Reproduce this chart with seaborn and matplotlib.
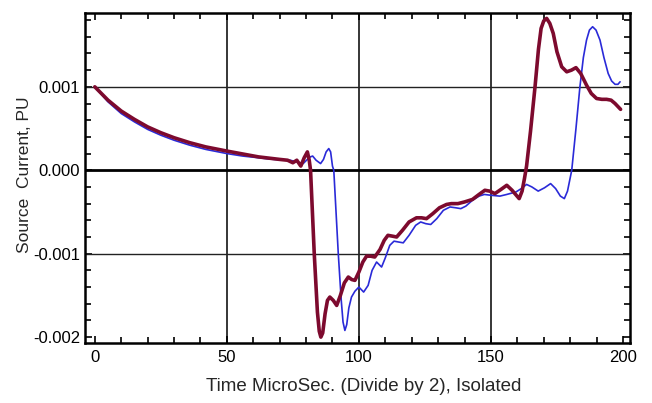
import numpy as np
import pandas as pd
import seaborn as sns
import matplotlib.pyplot as plt
from matplotlib.ticker import MultipleLocator, FormatStrFormatter

# values; current in units of 1e-3 PU
red_t = [0, 5, 10, 15, 20, 25, 30, 36, 42, 50, 56, 62, 66, 70, 73, 75, 76.5, 78, 79.3, 80.5,
         81.2, 81.7, 83.1, 84.3, 85.0, 85.6, 86.3, 87.2, 88.1, 89, 90.3, 91.6, 93, 94.5, 96,
         97.3, 98.5, 100, 101.5, 102.9, 104.5, 106, 108, 109.6, 111, 112.7, 114.3, 116.5, 119,
         121.8, 123.7, 125.6, 128, 130.5, 133.2, 135, 137.5, 140, 143, 145.5, 147.7, 149.5,
         151.5, 153.8, 156, 158, 160.7, 161.8, 162.7, 163.5, 165, 166.7, 168, 169, 170, 171.1,
         172.3, 173.6, 175, 176.8, 178.7, 180.5, 182.2, 184, 186.2, 188, 190, 192, 193.8,
         195.5, 197, 199.1]
red_i = [1.00, 0.84, 0.71, 0.61, 0.52, 0.45, 0.39, 0.33, 0.28, 0.23, 0.195, 0.16, 0.145, 0.13,
         0.12, 0.09, 0.12, 0.05, 0.15, 0.22, 0.12, 0.0, -1.0, -1.7, -1.93, -2.0, -1.95, -1.72,
         -1.56, -1.52, -1.56, -1.62, -1.5, -1.35, -1.28, -1.31, -1.32, -1.22, -1.10, -1.03,
         -1.03, -1.04, -0.95, -0.84, -0.78, -0.79, -0.80, -0.72, -0.62, -0.57, -0.57, -0.58,
         -0.52, -0.45, -0.41, -0.40, -0.40, -0.38, -0.35, -0.29, -0.24, -0.25, -0.28, -0.23,
         -0.18, -0.24, -0.34, -0.25, -0.10, 0.05, 0.47, 1.0, 1.45, 1.70, 1.79, 1.82, 1.76,
         1.64, 1.42, 1.24, 1.18, 1.20, 1.23, 1.16, 1.02, 0.92, 0.86, 0.85, 0.85, 0.84, 0.80,
         0.73]

blue_t = [0, 5, 10, 15, 20, 25, 30, 36, 42, 50, 56, 62, 66, 70, 74, 76.5, 78.9, 80.5, 81.6,
          82.5, 83.8, 85.5, 86.6, 87.6, 88.6, 89.3, 90, 90.5, 92.2, 93.3, 94.0, 94.7, 95.4,
          96.2, 97.2, 98.5, 100, 101.8, 103.5, 105, 106.7, 108.6, 110, 111.7, 113.3, 115,
          116.8, 119, 121.5, 123.4, 125.3, 127.2, 129.5, 132, 134.5, 136.7, 138.6, 140.5, 143,
          145.5, 147.5, 150, 153.4, 156, 159.5, 161.5, 163.5, 165.5, 167.9, 170.3, 172.6,
          174.5, 176.3, 177.8, 179, 180.6, 182.2, 183.7, 185, 186.2, 187.3, 188.5, 189.8,
          191.3, 192.8, 194.4, 195.7, 197, 198.1, 198.9]
blue_i = [1.00, 0.82, 0.68, 0.58, 0.49, 0.42, 0.36, 0.30, 0.25, 0.20, 0.17, 0.15, 0.135, 0.125,
          0.12, 0.10, 0.08, 0.13, 0.16, 0.17, 0.12, 0.08, 0.13, 0.22, 0.26, 0.22, 0.05, 0.0,
          -1.0, -1.55, -1.82, -1.92, -1.85, -1.65, -1.52, -1.45, -1.40, -1.46, -1.38, -1.20,
          -1.10, -1.16, -1.05, -0.90, -0.85, -0.86, -0.87, -0.78, -0.66, -0.62, -0.64, -0.65,
          -0.58, -0.48, -0.44, -0.45, -0.46, -0.43, -0.36, -0.31, -0.29, -0.30, -0.31, -0.29,
          -0.26, -0.22, -0.17, -0.20, -0.25, -0.21, -0.16, -0.22, -0.31, -0.34, -0.25, 0.0,
          0.5, 1.0, 1.35, 1.56, 1.68, 1.72, 1.68, 1.56, 1.35, 1.16, 1.07, 1.03, 1.03, 1.06]

x_ticks = [0, 50, 100, 150, 200]
y_ticks = [-0.002, -0.001, 0.000, 0.001]

sns.set_style("ticks")
plt.rcParams['font.family'] = ['Liberation Sans', 'DejaVu Sans']
plt.rcParams['axes.unicode_minus'] = False

fig = plt.figure(figsize=(6.52, 4.03), dpi=100)
ax = fig.add_axes([0.130, 0.149, 0.836, 0.819])

# grid lines drawn under the curves
for gx in [50, 100, 150]:
    ax.axvline(gx, color='black', lw=1.1, zorder=1)
for gy in [0.001, -0.001]:
    ax.axhline(gy, color='#222222', lw=1.0, zorder=1)
ax.axhline(0.0, color='black', lw=2.0, zorder=1)

sns.lineplot(x=blue_t, y=np.array(blue_i) * 1e-3, ax=ax, color='#2a2ad8', lw=1.2,
             sort=False, estimator=None, zorder=3)
sns.lineplot(x=red_t, y=np.array(red_i) * 1e-3, ax=ax, color='#7d0a2e', lw=2.6,
             sort=False, estimator=None, zorder=4)

ax.set_xlim(-3.8, 202.6)
ax.set_ylim(-0.00207, 0.001886)
ax.set_xticks(x_ticks)
ax.set_yticks(y_ticks)
ax.yaxis.set_major_formatter(FormatStrFormatter('%.3f'))
ax.xaxis.set_minor_locator(MultipleLocator(10))
ax.yaxis.set_minor_locator(MultipleLocator(0.0002))
ax.tick_params(which='both', direction='in', top=True, right=True, width=1.2,
               colors='black', labelsize=12)
ax.tick_params(which='major', length=5)
ax.tick_params(which='minor', length=4)
ax.tick_params(axis='x', pad=5)
for s in ax.spines.values():
    s.set_linewidth(1.8)
    s.set_color('black')

ax.set_xlabel("Time MicroSec. (Divide by 2), Isolated", fontsize=13.5)
ax.set_ylabel("Source  Current, PU", fontsize=12.5)
ax.xaxis.set_label_coords(0.512, -0.105)
ax.yaxis.set_label_coords(-0.097, 0.51)

fig.savefig("out.png", dpi=100)
